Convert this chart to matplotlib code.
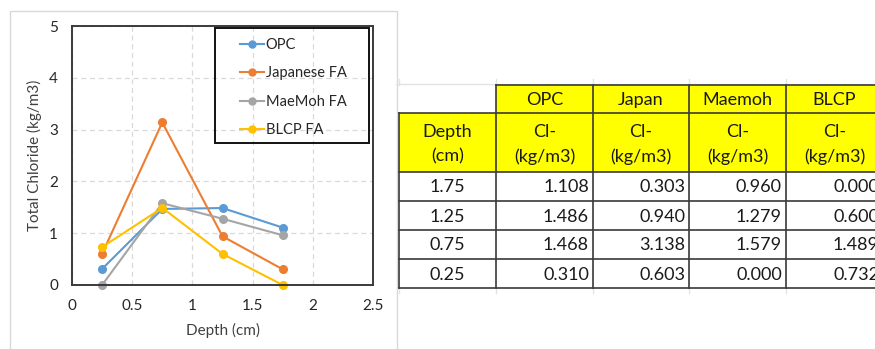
import matplotlib
matplotlib.use("Agg")
import matplotlib.pyplot as plt
from matplotlib.patches import Rectangle
from matplotlib.lines import Line2D

# Chloride profile data (kg/m3) at each depth (cm)
depth = [0.25, 0.75, 1.25, 1.75]
opc = [0.310, 1.468, 1.486, 1.108]
japanese = [0.603, 3.138, 0.940, 0.303]
maemoh = [0.000, 1.579, 1.279, 0.960]
blcp = [0.732, 1.489, 0.600, 0.000]

series_labels = ["OPC", "Japanese FA", "MaeMoh FA", "BLCP FA"]
table_headers = ["OPC", "Japan", "Maemoh", "BLCP"]
unit_header = "Cl-\n(kg/m3)"
depth_header = "Depth\n(cm)"
x_ticks = [0, 0.5, 1, 1.5, 2, 2.5]
y_ticks = [0, 1, 2, 3, 4, 5]

colors = ["#5B9BD5", "#ED7D31", "#A5A5A5", "#FFC000"]
W, H = 875, 349
FONT = "Lato"
TXT = "#404040"

fig = plt.figure(figsize=(W / 100, H / 100), dpi=100)
plt.rcParams["font.family"] = [FONT, "DejaVu Sans"]

# ---- line chart ----
x0, x1, y0, y1 = 72, 373, 26, 285
ax = fig.add_axes([x0 / W, 1 - y1 / H, (x1 - x0) / W, (y1 - y0) / H])
all_series = [opc, japanese, maemoh, blcp]
for vals, c, lab in zip(all_series, colors, series_labels):
    ax.plot(depth, vals, color=c, lw=1.5, marker="o", ms=5.5, label=lab,
            clip_on=False)
ax.set_xlim(0, 2.5)
ax.set_ylim(0, 5)
ax.set_xticks(x_ticks)
ax.set_xticklabels([f"{t:g}" for t in x_ticks])
ax.set_yticks(y_ticks)
ax.tick_params(length=0, pad=10, labelsize=11, labelcolor="#262626")
ax.grid(True, ls=(0, (4, 3)), color="#D9D9D9", lw=0.9)
ax.set_axisbelow(True)
for s in ax.spines.values():
    s.set_color("#3A3A3A")
    s.set_linewidth(1.4)
ax.set_xlabel("Depth (cm)", fontsize=11, color=TXT, labelpad=7)
ax.set_ylabel("Total Chloride (kg/m3)", fontsize=11, color=TXT, labelpad=5)

# overlay canvas in figure pixels for frames and the table
bg = fig.add_axes([0, 0, 1, 1])
bg.set_xlim(0, W)
bg.set_ylim(H, 0)
bg.axis("off")
bg.set_zorder(3)

# chart frame
bg.add_patch(Rectangle((10, 11), 387, 345, fill=False, ec="#D9D9D9", lw=1.0))

# legend with a boxed frame
bg.add_patch(Rectangle((215, 28), 154, 115, fill=False, ec="#111111", lw=1.4))
handles = [Line2D([], [], color=c, lw=1.5, marker="o", ms=5) for c in colors]
leg = fig.legend(handles, series_labels, loc="upper left",
                 bbox_to_anchor=(227 / W, 1 - 25 / H), frameon=False,
                 fontsize=10.5, handlelength=1.65, handletextpad=0.1,
                 labelspacing=0.98, labelcolor="#262626")
leg.set_zorder(6)

# ---- data table ----
col_edges = [399, 496, 593, 689, 786, 883]
row_edges = [85, 113, 172, 201, 230, 259, 288]
grid_c = "#E3E3E3"
line_c = "#3A3A3A"
tfs = 13

# faint worksheet gridlines around the table
bg.plot([396, W], [84, 84], color=grid_c, lw=1.0)
for xe in col_edges[:-1]:
    bg.plot([xe, xe], [79, 85], color=grid_c, lw=1.0)
    bg.plot([xe, xe], [288, 293], color=grid_c, lw=1.0)

# header cells
for j, name in enumerate(table_headers):
    cx0, cx1 = col_edges[j + 1], col_edges[j + 2]
    bg.add_patch(Rectangle((cx0, row_edges[0]), cx1 - cx0,
                           row_edges[2] - row_edges[0], fc="#FFFF00",
                           ec="none"))
    bg.text((cx0 + cx1) / 2, (row_edges[0] + row_edges[1]) / 2 + 1, name,
            ha="center", va="center", fontsize=tfs, color="#1A1A1A")
    bg.text((cx0 + cx1) / 2, (row_edges[1] + row_edges[2]) / 2 + 2,
            unit_header, ha="center", va="center", fontsize=tfs,
            color="#1A1A1A", linespacing=1.65)
bg.add_patch(Rectangle((col_edges[0], row_edges[1]),
                       col_edges[1] - col_edges[0],
                       row_edges[2] - row_edges[1], fc="#FFFF00", ec="none"))
bg.text((col_edges[0] + col_edges[1]) / 2, (row_edges[1] + row_edges[2]) / 2 + 2,
        depth_header, ha="center", va="center", fontsize=tfs,
        color="#1A1A1A", linespacing=1.65)

# data rows, deepest first
rows = list(zip(depth, opc, japanese, maemoh, blcp))[::-1]
for i, row in enumerate(rows):
    ry = (row_edges[i + 2] + row_edges[i + 3]) / 2 + 1
    bg.text((col_edges[0] + col_edges[1]) / 2, ry, f"{row[0]:.2f}",
            ha="center", va="center", fontsize=tfs, color="#1A1A1A")
    for j, v in enumerate(row[1:]):
        bg.text(col_edges[j + 2] - 4, ry, f"{v:.3f}", ha="right",
                va="center", fontsize=tfs, color="#1A1A1A")

# cell borders
for k, ye in enumerate(row_edges):
    xs = col_edges[1] if k == 0 else col_edges[0]
    bg.plot([xs, col_edges[-1]], [ye, ye], color=line_c, lw=1.2)
for k, xe in enumerate(col_edges):
    ys = row_edges[1] if k == 0 else row_edges[0]
    bg.plot([xe, xe], [ys, row_edges[-1]], color=line_c, lw=1.2)

fig.savefig("out.png", dpi=100)
